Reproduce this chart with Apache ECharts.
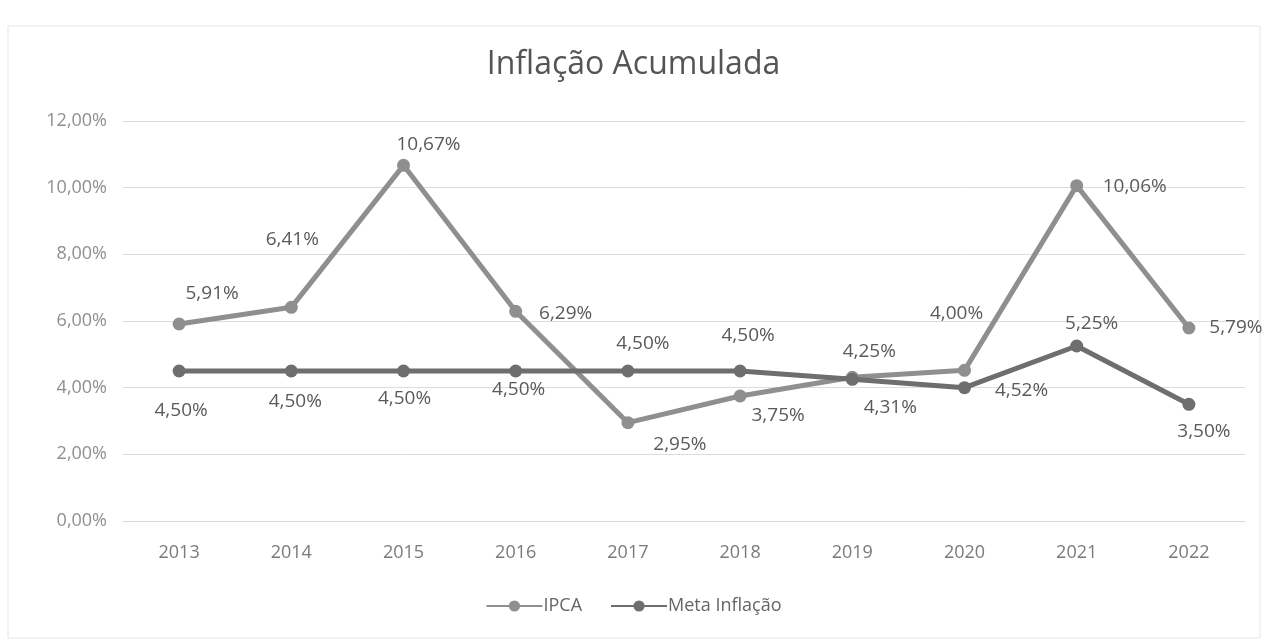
<!DOCTYPE html>
<html>
<head>
<meta charset="utf-8">
<script src="https://cdn.jsdelivr.net/npm/echarts@6/dist/echarts.min.js"></script>
<style>
  html, body { margin: 0; padding: 0; background: #fff; }
  #main { width: 1267px; height: 640px; }
</style>
</head>
<body>
<div id="main"></div>
<script>
// anos
var anos = ['2013', '2014', '2015', '2016', '2017', '2018', '2019', '2020', '2021', '2022'];

// valores das series (%)
var ipca = [5.91, 6.41, 10.67, 6.29, 2.95, 3.75, 4.31, 4.52, 10.06, 5.79];
var meta = [4.50, 4.50, 4.50, 4.50, 4.50, 4.50, 4.25, 4.00, 5.25, 3.50];

// ticks do eixo y
var yTicks = [0, 2, 4, 6, 8, 10, 12];

// deslocamento dos rotulos (como no Excel)
var ipcaOffset = [[33, -30], [1, -68], [25, -21], [50, 2], [52, 22], [38, 20], [38, 30], [57, 20], [58, 1], [47, 0]];
var metaOffset = [[2, 40], [4, 31], [1, 28], [3, 19], [15, -27], [8, -35], [17, -28], [-8, -74], [15, -22], [15, 27]];

function fmt(v) {
	return v.toFixed(2).replace('.', ',') + '%';
}

function montaDados(valores, offsets) {
	var arr = [];
	for (var i = 0; i < valores.length; i++) {
		arr.push({
			value: valores[i],
			label: { offset: offsets[i] }
		});
	}
	return arr;
}

var fonte = "'Open Sans', 'Liberation Sans', sans-serif";

var myChart = echarts.init(document.getElementById('main'));

var option = {
	animation: false,
	backgroundColor: '#ffffff',
	textStyle: { fontFamily: fonte },
	title: {
		text: 'Inflação Acumulada',
		left: 'center',
		top: 44,
		textStyle: { fontSize: 32, fontWeight: 'normal', color: '#555555', fontFamily: fonte }
	},
	graphic: [{
		type: 'rect',
		shape: { x: 8, y: 26, width: 1252, height: 612 },
		style: { fill: 'none', stroke: '#e6e6e6', lineWidth: 1 },
		silent: true
	}],
	legend: {
		bottom: 20,
		left: 'center',
		itemWidth: 56,
		itemHeight: 14,
		itemGap: 28,
		textStyle: { fontSize: 18, color: '#666666', fontFamily: fonte, padding: [0, 0, 0, -4] },
		data: ['IPCA', 'Meta Inflação']
	},
	grid: {
		left: 123,
		right: 22,
		top: 121,
		height: 400
	},
	xAxis: {
		type: 'category',
		data: anos,
		boundaryGap: true,
		axisLine: { lineStyle: { color: '#d9d9d9' } },
		axisTick: { show: false },
		axisLabel: { fontSize: 18, color: '#7a7a7a', margin: 23 }
	},
	yAxis: {
		type: 'value',
		min: yTicks[0],
		max: yTicks[yTicks.length - 1],
		interval: 2,
		axisLine: { show: false },
		axisTick: { show: false },
		splitLine: { lineStyle: { color: '#dcdcdc' } },
		axisLabel: {
			fontSize: 18,
			color: '#8f8f8f',
			margin: 16,
			formatter: function (v) { return fmt(v); }
		}
	},
	series: [{
		name: 'IPCA',
		type: 'line',
		data: montaDados(ipca, ipcaOffset),
		symbol: 'circle',
		symbolSize: 13,
		lineStyle: { width: 5, color: '#8f8f8f' },
		itemStyle: { color: '#8f8f8f' },
		label: {
			show: true,
			position: 'inside',
			fontSize: 19,
			color: '#5a5a5a',
			formatter: function (p) { return fmt(p.value); }
		},
		z: 2
	}, {
		name: 'Meta Inflação',
		type: 'line',
		data: montaDados(meta, metaOffset),
		symbol: 'circle',
		symbolSize: 13,
		lineStyle: { width: 5, color: '#6e6e6e' },
		itemStyle: { color: '#6e6e6e' },
		label: {
			show: true,
			position: 'inside',
			fontSize: 19,
			color: '#5a5a5a',
			formatter: function (p) { return fmt(p.value); }
		},
		z: 3
	}]
};

myChart.setOption(option);
</script>
</body>
</html>
